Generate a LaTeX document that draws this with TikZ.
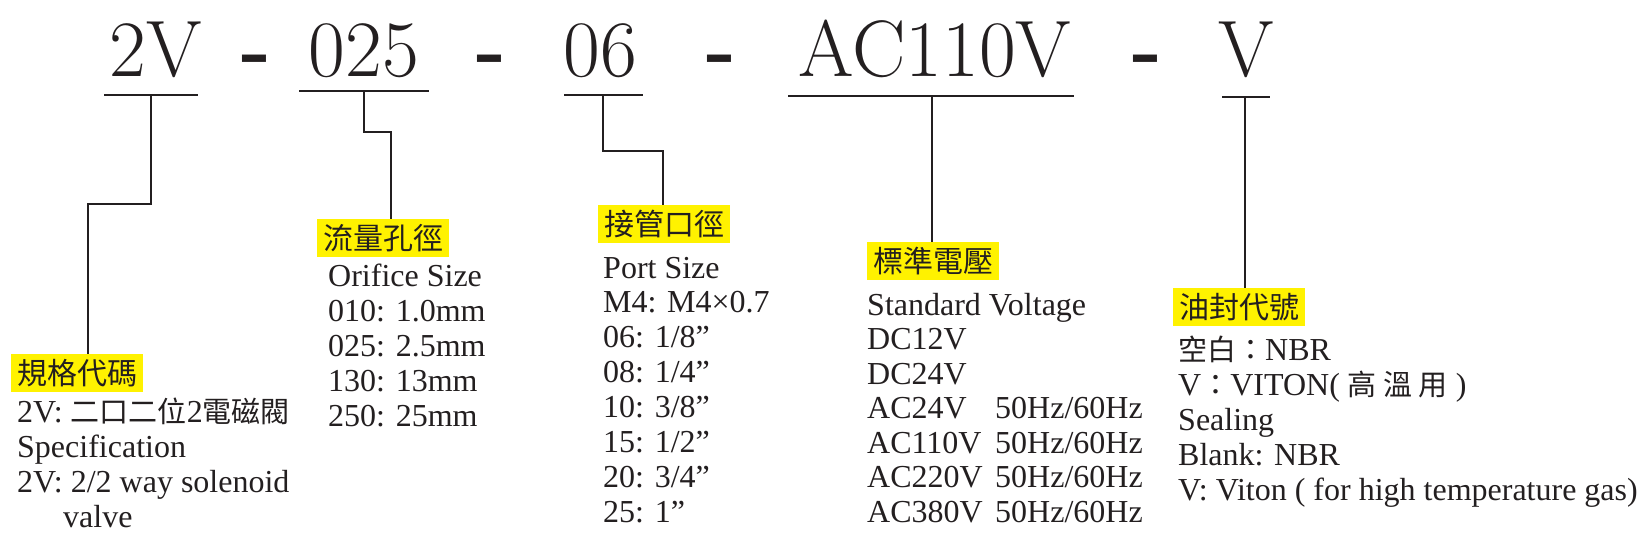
\documentclass[tikz,border=0pt]{standalone}
\usepackage{fontspec}
\usetikzlibrary{positioning}
\newfontfamily\cjk{Noto Sans CJK TC}
\newfontfamily\bodyfont{Liberation Serif}
\definecolor{ink}{RGB}{35,31,32}
\definecolor{marker}{RGB}{255,242,0}
\newcommand{\zh}[1]{{\cjk\fontsize{29}{35}\selectfont #1}}

\begin{document}
\begin{tikzpicture}[x=1pt, y=-1pt,
  codepart/.style={anchor=base, inner sep=0, text=ink, font=\fontsize{80}{80}\selectfont},
  uline/.style={ink, line width=2.8pt},
  link/.style={ink, line width=2.8pt},
  tagbox/.style={anchor=north west, fill=marker, inner sep=0, minimum width=132pt,
    minimum height=38pt, text=ink, font=\cjk\fontsize{30}{30}\selectfont},
  txt/.style={anchor=base west, inner sep=0, text=ink, font=\bodyfont\fontsize{32}{35}\selectfont}]
  \useasboundingbox (0,0) rectangle (1645,539);
  \fill[white] (0,0) rectangle (1645,539);

  % model code
  \node[codepart] (c1) at (156,76) {2V};
  \node[codepart] (c2) at (364,76) {025};
  \node[codepart] (c3) at (600,76) {06};
  \node[codepart] (c4) at (935,76) {AC110V};
  \node[codepart] (c5) at (1246,76) {V};
  \foreach \x [count=\i] in {256,491,721,1147}
    \node[codepart, font=\bfseries\fontsize{80}{80}\selectfont] (d\i) at (\x,76) {-};

  \foreach \a/\b/\y in {104/198/95, 299/429/91, 564/643/95, 788/1074/96, 1222/1270/97}
    \draw[uline] (\a,\y) -- (\b,\y);
  \coordinate (k1) at (151,95);
  \coordinate (k2) at (364,91);
  \coordinate (k3) at (603,95);
  \coordinate (k4) at (932,96);
  \coordinate (k5) at (1245,97);

  % labels
  \node[tagbox] (L1) at (11,354) {規格代碼};
  \node[tagbox] (L2) at (317,219) {流量孔徑};
  \node[tagbox] (L3) at (598,205) {接管口徑};
  \node[tagbox] (L4) at (867,242) {標準電壓};
  \node[tagbox] (L5) at (1173,288) {油封代號};

  \draw[link] (k1) -- ++(0,109) -| ([xshift=77pt]L1.north west);
  \draw[link] (k2) -- ++(0,41) -| ([xshift=74pt]L2.north west);
  \draw[link] (k3) -- ++(0,56) -| ([xshift=65pt]L3.north west);
  \draw[link] (k4) -- (k4 |- L4.north);
  \draw[link] (k5) -- (k5 |- L5.north);

  % descriptions
  \foreach \t [count=\i from 0] in {{2V: \zh{二口二位}2\zh{電磁閥}}, Specification,
      2V: 2/2 way solenoid, \hspace*{46pt}valve}
    \node[txt] (a\i) at (17,{422+35*\i}) {\t};
  \foreach \t [count=\i from 0] in {Orifice Size, 010: 1.0mm, 025: 2.5mm, 130: 13mm, 250: 25mm}
    \node[txt] (b\i) at (328,{286+35*\i}) {\t};
  \foreach \t [count=\i from 0] in {Port Size, M4: M4×0.7, 06: 1/8”, 08: 1/4”, 10: 3/8”,
      15: 1/2”, 20: 3/4”, 25: 1”}
    \node[txt] (p\i) at (603,{278+34.86*\i}) {\t};
  \foreach \t [count=\i from 0] in {Standard Voltage, DC12V, DC24V, AC24V, AC110V, AC220V, AC380V}
    \node[txt] (v\i) at (867,{315+34.5*\i}) {\t};
  \foreach \i in {3,...,6}
    \node[txt] (h\i) at (995,{315+34.5*\i}) {50Hz/60Hz};
  \foreach \t [count=\i from 0] in {\zh{空白：}NBR, V\zh{：}VITON( \zh{高 溫 用} ), Sealing,
      Blank: NBR, V: Viton ( for high temperature gas)}
    \node[txt] (s\i) at (1178,{360+35*\i}) {\t};
\end{tikzpicture}
\end{document}
